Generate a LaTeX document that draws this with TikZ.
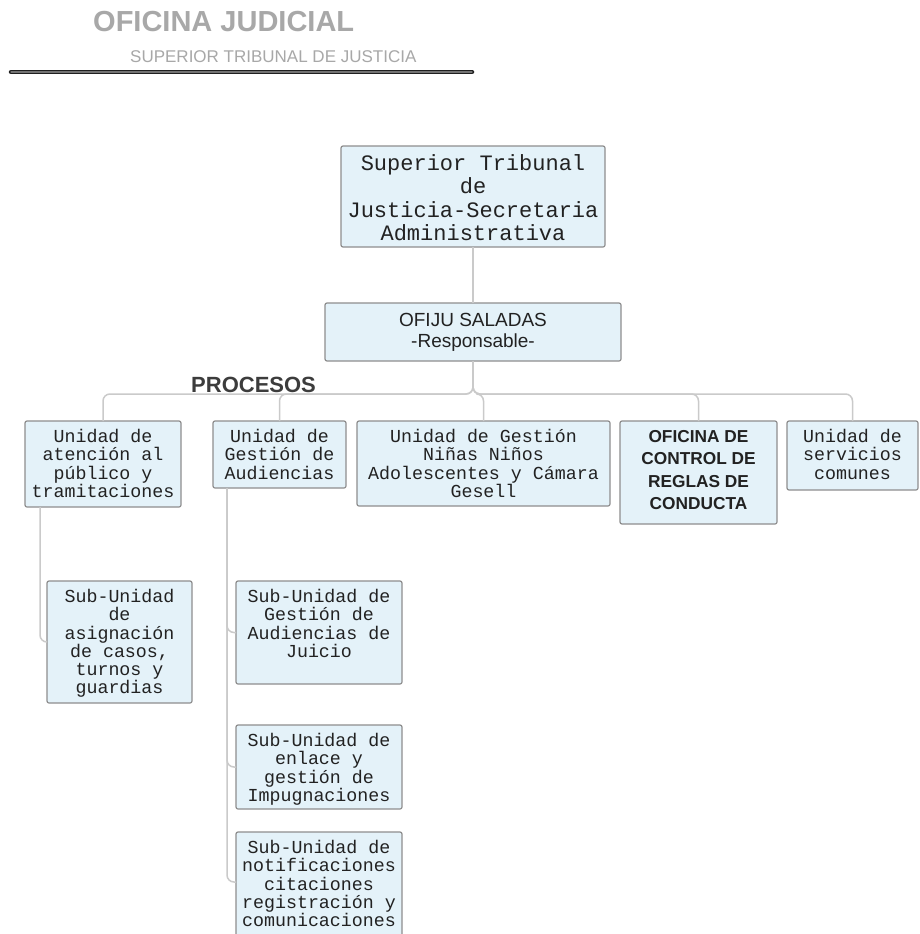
\documentclass[tikz,border=0pt]{standalone}
\usepackage{fontspec}
\setmainfont{Liberation Sans}
\newfontfamily\monof{Liberation Mono}
\definecolor{boxfill}{HTML}{E4F2F9}
\definecolor{boxline}{HTML}{8E8E8E}
\definecolor{connc}{HTML}{CACACA}
\definecolor{txtc}{HTML}{222222}
\definecolor{titlec}{HTML}{A8A8A8}
\definecolor{procc}{HTML}{3C3C3C}
\tikzset{
  orgbox/.style={draw=boxline, fill=boxfill, rounded corners=2pt, line width=1.2pt, inner sep=0pt, outer sep=0pt},
  conn/.style={draw=connc, line width=1.5pt, rounded corners=7pt},
  monotxt/.style={anchor=north, align=center, inner sep=0pt, text=txtc, font=\monof\fontsize{18.3}{18.3}\selectfont},
}
\newcommand\obox[5]{%
  \node[orgbox, minimum width={#4-#2}, minimum height={#5-#3}] (#1) at ({(#2+#4)/2},{(#3+#5)/2}) {};}
\begin{document}
\begin{tikzpicture}[x=1pt,y=-1pt]
\clip (0,0) rectangle (920,934);
\fill[white] (0,0) rectangle (920,934);
% header
\node[anchor=base west, inner sep=0pt, text=titlec, font=\bfseries\fontsize{29}{32}\selectfont] (title) at (93,32) {OFICINA JUDICIAL};
\node[anchor=base west, inner sep=0pt, text=titlec, font=\fontsize{17}{19}\selectfont] (subtitle) at (130,63) {SUPERIOR TRIBUNAL DE JUSTICIA};
\coordinate (ruleL) at (11,72);
\coordinate (ruleR) at (472,72);
\draw[line width=4.5pt, line cap=round, draw=black!88] (ruleL) -- (ruleR);
\draw[line width=1.2pt, line cap=round, draw=black!55] (ruleL) -- (ruleR);
% boxes
\obox{top}{341}{146}{605}{247}
\obox{ofiju}{325}{303}{621}{361}
\obox{u1}{25}{421}{181}{507}
\obox{u2}{213}{421}{346}{488}
\obox{u3}{357}{421}{610}{506}
\obox{u4}{620}{421}{777}{524}
\obox{u5}{787}{421}{918}{490}
\obox{s1}{47}{581}{192}{703}
\obox{s2}{236}{581}{402}{684}
\obox{s3}{236}{725}{402}{809}
\obox{s4}{236}{832}{402}{936}
% texts
\node[monotxt, font=\monof\fontsize{22}{23.5}\selectfont] (ttop) at ([yshift=-8pt]top.north) {Superior Tribunal\\de\\Justicia-Secretaria\\Administrativa};
\node[anchor=north, align=center, inner sep=0pt, text=txtc, font=\fontsize{19}{21.5}\selectfont] (tofiju) at ([yshift=-10pt]ofiju.north) {OFIJU SALADAS\\-Responsable-};
\node[monotxt] (tu1) at ([yshift=-8pt]u1.north) {Unidad de\\atención al\\público y\\tramitaciones};
\node[monotxt] (tu2) at ([yshift=-8pt]u2.north) {Unidad de\\Gestión de\\Audiencias};
\node[monotxt] (tu3) at ([yshift=-8pt]u3.north) {Unidad de Gestión\\Niñas Niños\\Adolescentes y Cámara\\Gesell};
\node[anchor=north, align=center, inner sep=0pt, text=txtc, font=\bfseries\fontsize{17.3}{22.5}\selectfont] (tu4) at ([yshift=-9pt]u4.north) {OFICINA DE\\CONTROL DE\\REGLAS DE\\CONDUCTA};
\node[monotxt] (tu5) at ([yshift=-8pt]u5.north) {Unidad de\\servicios\\comunes};
\node[monotxt] (ts1) at ([yshift=-8pt]s1.north) {Sub-Unidad\\de\\asignación\\de casos,\\turnos y\\guardias};
\node[monotxt] (ts2) at ([yshift=-8pt]s2.north) {Sub-Unidad de\\Gestión de\\Audiencias de\\Juicio};
\node[monotxt] (ts3) at ([yshift=-8pt]s3.north) {Sub-Unidad de\\enlace y\\gestión de\\Impugnaciones};
\node[monotxt] (ts4) at ([yshift=-8pt]s4.north) {Sub-Unidad de\\notificaciones\\citaciones\\registración y\\comunicaciones};
\node[anchor=base west, inner sep=0pt, text=procc, font=\bfseries\fontsize{22}{24}\selectfont] (proc) at (191,392) {PROCESOS};
% connectors
\draw[conn] (top.south) -- (ofiju.north);
\coordinate (bus) at (473,394);
\foreach \u in {u1,u2,u3,u4,u5}{
  \draw[conn] (ofiju.south) -- (bus) -| (\u.north);
}
\draw[conn] ([xshift=15pt]u1.south west) |- (s1.west);
\draw[conn] ([xshift=14pt]u2.south west) |- (s2.west);
\draw[conn] ([xshift=14pt]u2.south west) |- (s3.west);
\draw[conn] ([xshift=14pt]u2.south west) |- ([yshift=2pt]s4.west);
\end{tikzpicture}
\end{document}
